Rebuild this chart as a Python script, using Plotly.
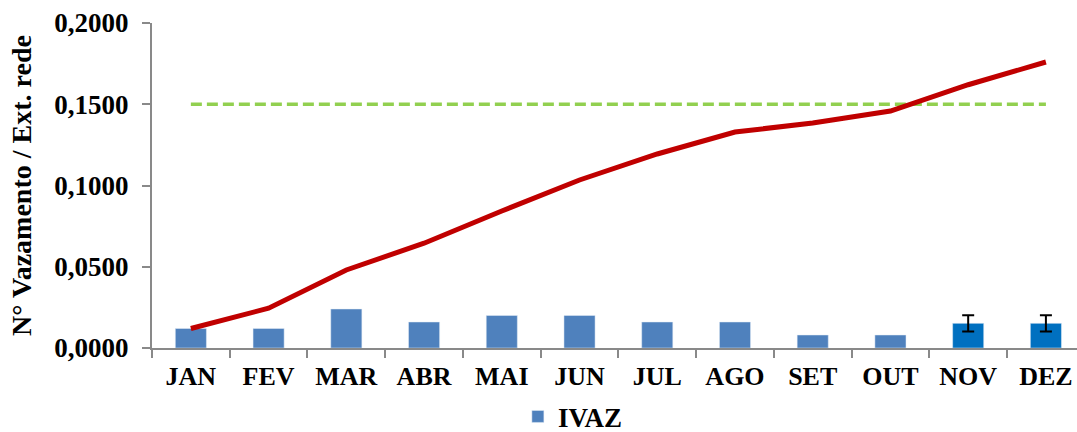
import plotly.graph_objects as go

months = ["JAN", "FEV", "MAR", "ABR", "MAI", "JUN", "JUL", "AGO", "SET", "OUT", "NOV", "DEZ"]
ivaz_obs = [0.012, 0.012, 0.024, 0.016, 0.020, 0.020, 0.016, 0.016, 0.008, 0.008]
ivaz_prev_months = ["NOV", "DEZ"]
ivaz_prev = [0.0152, 0.0152]
ivaz_prev_err = [0.005, 0.005]
acumulado = [0.012, 0.0245, 0.048, 0.0645, 0.0843, 0.1034, 0.1194, 0.1329, 0.1385, 0.1458, 0.1620, 0.1760]
meta = [0.15] * 12

font_main = "Liberation Serif"
axis_grey = "#898989"

fig = go.Figure()
fig.add_trace(go.Bar(
    x=months[:10], y=ivaz_obs, name="IVAZ",
    marker=dict(color="#4F81BD"), width=0.4, showlegend=True,
))
fig.add_trace(go.Bar(
    x=ivaz_prev_months, y=ivaz_prev, name="IVAZ prev",
    marker=dict(color="#0070C0"), width=0.4, showlegend=False,
    error_y=dict(type="data", array=ivaz_prev_err, color="black", thickness=2, width=6),
))
fig.add_trace(go.Scatter(
    x=months, y=meta, mode="lines",
    line=dict(color="#92D050", width=3.5, dash="11px,5px"),
    showlegend=False,
))
fig.add_trace(go.Scatter(
    x=months, y=acumulado, mode="lines", line=dict(color="#C00000", width=5),
    showlegend=False,
))

fig.update_layout(
    width=1077, height=432,
    margin=dict(l=152, r=0, t=23, b=84, autoexpand=False),
    plot_bgcolor="white", paper_bgcolor="white",
    barmode="overlay",
    separators=",.",
    font=dict(family=font_main, size=26, color="black"),
    legend=dict(orientation="h", x=0.455, xanchor="center",
                yref="container", y=0.035, yanchor="middle",
                font=dict(family=font_main, size=27, color="black", weight="bold")),
    xaxis=dict(
        type="category", categoryorder="array", categoryarray=months,
        range=[-0.5, 11.4], automargin=False,
        showline=True, linecolor=axis_grey, linewidth=2,
        ticks="outside", tickson="boundaries", ticklen=8, tickcolor=axis_grey, tickwidth=2,
        ticklabelstandoff=4,
        tickfont=dict(family=font_main, size=26, color="black", weight="bold"),
        showgrid=False,
    ),
    yaxis=dict(
        range=[0, 0.2], dtick=0.05, tickformat=".4f", automargin=False,
        showline=True, linecolor=axis_grey, linewidth=2,
        ticks="outside", ticklen=8, tickcolor=axis_grey, tickwidth=2,
        ticklabelstandoff=8,
        tickfont=dict(family=font_main, size=27, color="black", weight="bold"),
        showgrid=False, zeroline=False,
        title=dict(text="N° Vazamento / Ext. rede",
                   font=dict(family=font_main, size=28, color="black", weight="bold")),
    ),
)

fig.write_html("out.html", config={"displayModeBar": False},
               post_script="document.body.style.margin='0';")
